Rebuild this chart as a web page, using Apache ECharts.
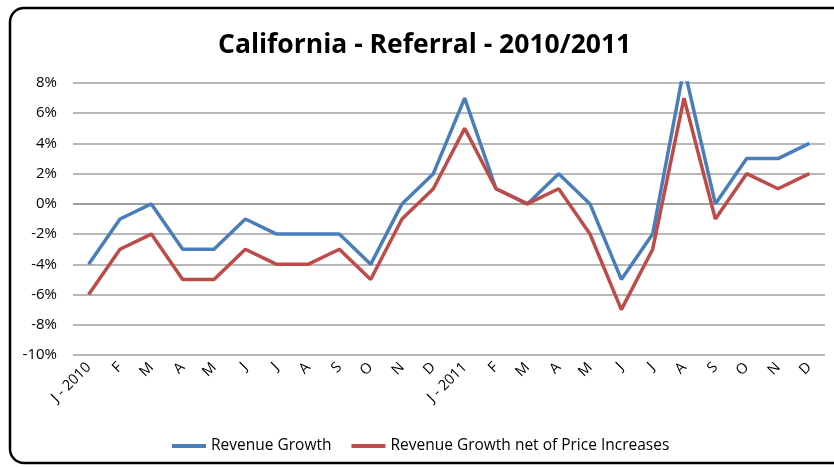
<!DOCTYPE html>
<html>
<head>
<meta charset="utf-8">
<script src="https://cdn.jsdelivr.net/npm/echarts@6/dist/echarts.min.js"></script>
<style>
html,body{margin:0;padding:0;background:#fff;}
#c{width:834px;height:467px;}
</style>
</head>
<body>
<div id="c"></div>
<script>
const titleText = 'California - Referral - 2010/2011';
const categories = ['J - 2010','F','M','A','M','J','J','A','S','O','N','D','J - 2011','F','M','A','M','J','J','A','S','O','N','D'];
const revenueGrowth = [-4,-1,0,-3,-3,-1,-2,-2,-2,-4,0,2,7,1,0,2,0,-5,-2,9,0,3,3,4];
const revenueGrowthNet = [-6,-3,-2,-5,-5,-3,-4,-4,-3,-5,-1,1,5,1,0,1,-2,-7,-3,7,-1,2,1,2];
const seriesNames = ['Revenue Growth','Revenue Growth net of Price Increases'];
const yMin = -10, yMax = 8, yStep = 2;

const font = '"Open Sans", sans-serif';
const chart = echarts.init(document.getElementById('c'));
const gridColors = [];
for (let v = yMin; v <= yMax; v += yStep) gridColors.push(v === 0 ? '#7f7f7f' : '#a0a0a0');

chart.setOption({
  animation: false,
  backgroundColor: '#fff',
  graphic: [{
    type: 'rect',
    shape: {x: 10, y: 8, width: 850, height: 455, r: 14},
    style: {fill: 'none', stroke: '#000', lineWidth: 2.5},
    z: -1
  }],
  title: {
    text: titleText,
    left: 213,
    top: 27,
    textStyle: {fontFamily: font, fontWeight: 'bold', fontSize: 26.5, color: '#000'}
  },
  legend: {
    bottom: 8,
    left: 167,
    itemWidth: 34,
    itemHeight: 4,
    itemGap: 20,
    icon: 'rect',
    textStyle: {fontFamily: font, fontSize: 15.5, color: '#000'},
    data: seriesNames
  },
  grid: {left: 73, right: 9, top: 83, bottom: 112},
  xAxis: {
    type: 'category',
    data: categories,
    boundaryGap: true,
    axisLine: {show: false},
    axisTick: {show: false},
    axisLabel: {interval: 0, rotate: 45, fontFamily: font, fontSize: 14.5, color: '#000', margin: 10}
  },
  yAxis: {
    type: 'value',
    min: yMin, max: yMax, interval: yStep,
    axisLine: {show: false},
    axisTick: {show: false},
    axisLabel: {formatter: v => v + '%', fontFamily: font, fontSize: 15, color: '#000', margin: 16},
    splitLine: {lineStyle: {color: gridColors, width: 1.5}}
  },
  series: [
    {name: seriesNames[0], type: 'line', data: revenueGrowth, symbol: 'none', clip: true,
     itemStyle: {color: '#4a7ebb'}, lineStyle: {color: '#4a7ebb', width: 3.5}},
    {name: seriesNames[1], type: 'line', data: revenueGrowthNet, symbol: 'none', clip: true,
     itemStyle: {color: '#be4b48'}, lineStyle: {color: '#be4b48', width: 3.5}}
  ]
});
</script>
</body>
</html>
